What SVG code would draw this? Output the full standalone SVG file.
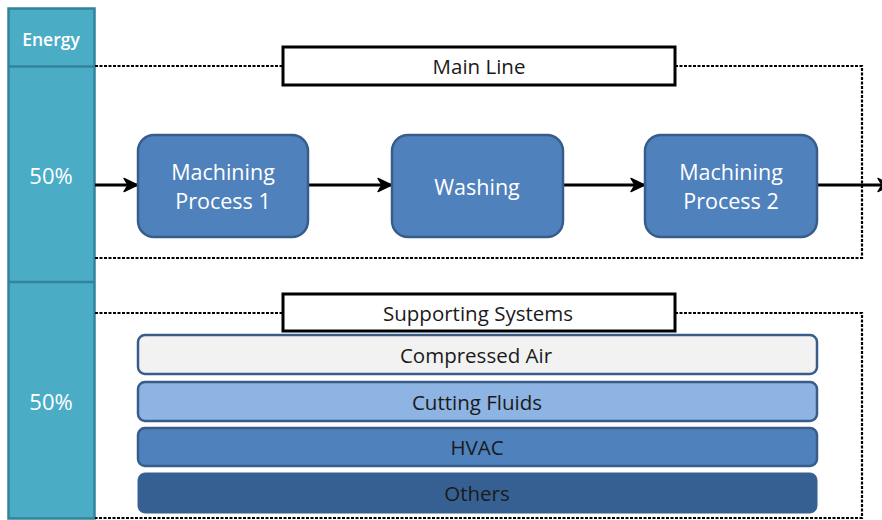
<svg xmlns="http://www.w3.org/2000/svg" width="882" height="520" viewBox="0 0 882 520">
  <style>
    .lbl { font-family: "Open Sans", "Liberation Sans", sans-serif; text-anchor: middle; dominant-baseline: central; }
    .white { fill: #ffffff; }
    .dark { fill: #1a1a1a; }
    .col { fill: #4BACC6; stroke: #31849B; stroke-width: 2.5; }
    .proc { fill: #4F81BD; stroke: #385D8A; stroke-width: 2.5; }
    .bar { stroke: #385D8A; stroke-width: 2.5; }
    .title { fill: #ffffff; stroke: #000000; stroke-width: 3; }
    .dotted { fill: none; stroke: #000000; stroke-width: 2.2; stroke-dasharray: 3 1.5; }
    .flow { fill: none; stroke: #000000; stroke-width: 3; }
  </style>
  <defs>
    <marker id="arrow" viewBox="0 0 16 16" refX="15" refY="8" markerWidth="16" markerHeight="16" markerUnits="userSpaceOnUse" orient="auto">
      <path d="M2,1.5 L15.5,8 L2,14.5 L6,8 Z" fill="#000000" stroke="#000000" stroke-width="1.4" stroke-linejoin="round"/>
    </marker>
  </defs>

  <rect width="882" height="520" fill="#ffffff"/>

  <!-- energy share column -->
  <g id="energy-column">
    <rect class="col" x="8.5" y="8.5" width="86" height="510"/>
    <line x1="8.5" y1="66.5" x2="94.5" y2="66.5" stroke="#31849B" stroke-width="2.5"/>
    <line x1="8.5" y1="282" x2="94.5" y2="282" stroke="#31849B" stroke-width="2.5"/>
    <text class="lbl white" x="51" y="39" font-size="17.5" font-weight="600">Energy</text>
    <text class="lbl white" x="51" y="175" font-size="22">50%</text>
    <text class="lbl white" x="51" y="401" font-size="22">50%</text>
  </g>

  <!-- group outlines and flow arrows -->
  <g id="connectors">
    <polyline class="dotted" points="95,66 283,66"/>
    <polyline class="dotted" points="675,66 862,66 862,258 95,258"/>
    <polyline class="dotted" points="95,313 283,313"/>
    <polyline class="dotted" points="675,313 862,313 862,518 95,518"/>
    <line class="flow" x1="95" y1="185" x2="137" y2="185" marker-end="url(#arrow)"/>
    <line class="flow" x1="309" y1="185" x2="391" y2="185" marker-end="url(#arrow)"/>
    <line class="flow" x1="564" y1="185" x2="644" y2="185" marker-end="url(#arrow)"/>
    <line class="flow" x1="818" y1="185" x2="891" y2="185" marker-end="url(#arrow)"/>
  </g>

  <g id="main-line">
    <rect class="title" x="283" y="47" width="392" height="38"/>
    <text class="lbl dark" x="479" y="66" font-size="20.5">Main Line</text>
  </g>

  <g id="machining-1">
    <rect class="proc" x="138" y="135" width="170" height="102" rx="16"/>
    <text class="lbl white" x="223" y="171" font-size="21.5">Machining</text>
    <text class="lbl white" x="223" y="200" font-size="21.5">Process 1</text>
  </g>

  <g id="washing">
    <rect class="proc" x="392" y="135" width="171" height="102" rx="16"/>
    <text class="lbl white" x="477" y="186" font-size="21.5">Washing</text>
  </g>

  <g id="machining-2">
    <rect class="proc" x="645" y="135" width="172" height="102" rx="16"/>
    <text class="lbl white" x="731" y="171" font-size="21.5">Machining</text>
    <text class="lbl white" x="731" y="200" font-size="21.5">Process 2</text>
  </g>

  <g id="supporting-systems">
    <rect class="title" x="283" y="294" width="392" height="37"/>
    <text class="lbl dark" x="478" y="313" font-size="20.5">Supporting Systems</text>
  </g>

  <g id="compressed-air">
    <rect class="bar" x="138" y="335" width="679" height="39" rx="7" fill="#F2F2F2"/>
    <text class="lbl dark" x="476" y="355" font-size="20.5">Compressed Air</text>
  </g>

  <g id="cutting-fluids">
    <rect class="bar" x="138" y="382" width="679" height="39" rx="7" fill="#8EB4E3"/>
    <text class="lbl dark" x="477" y="402" font-size="20.5">Cutting Fluids</text>
  </g>

  <g id="hvac">
    <rect class="bar" x="138" y="428" width="679" height="38" rx="7" fill="#4F81BD"/>
    <text class="lbl dark" x="477" y="447" font-size="20.5">HVAC</text>
  </g>

  <g id="others">
    <rect x="138" y="473" width="679" height="40" rx="7" fill="#376092" stroke="#376092" stroke-width="1"/>
    <text class="lbl dark" x="477" y="493" font-size="20.5">Others</text>
  </g>
</svg>
